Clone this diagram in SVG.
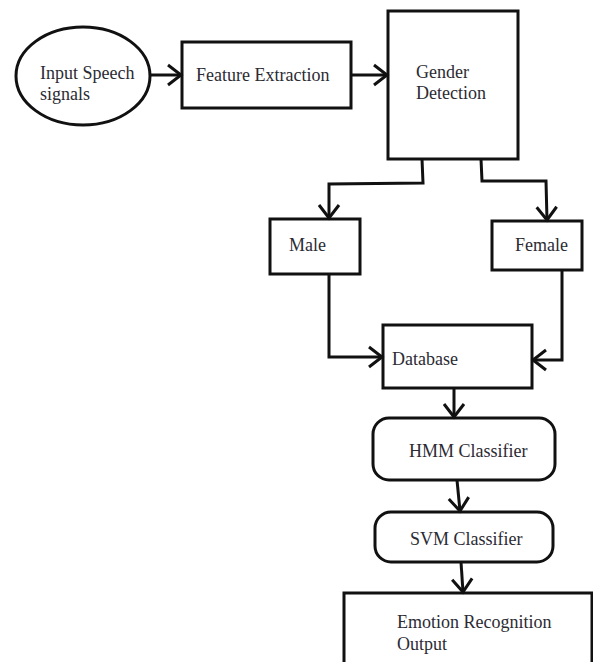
<svg xmlns="http://www.w3.org/2000/svg" width="593" height="662" viewBox="0 0 593 662">
<style>
.box{fill:#fff;stroke:#111;stroke-width:3}
.lbl{font-family:"Liberation Serif","Times New Roman","DejaVu Serif",serif;font-size:18px;fill:#2b2b33}
.con{fill:none;stroke:#111;stroke-width:3;stroke-linejoin:miter}
</style>
<defs>
<marker id="ah" markerUnits="userSpaceOnUse" markerWidth="20" markerHeight="24" refX="15" refY="12" orient="auto" viewBox="0 0 20 24">
<path d="M2,2 L15,12 L2,22" fill="none" stroke="#111" stroke-width="3"/>
</marker>
</defs>
<rect width="593" height="662" fill="#fff"/>
<g id="input">
<ellipse class="box" cx="83" cy="76" rx="67" ry="49"/>
<text class="lbl" x="40" y="79">Input Speech</text>
<text class="lbl" x="40" y="100">signals</text>
</g>
<g id="feature">
<rect class="box" x="182" y="42" width="169" height="66"/>
<text class="lbl" x="196" y="81">Feature Extraction</text>
</g>
<g id="gender">
<rect class="box" x="388" y="11" width="130" height="148"/>
<text class="lbl" x="416" y="78">Gender</text>
<text class="lbl" x="416" y="99">Detection</text>
</g>
<g id="male">
<rect class="box" x="270" y="219" width="90" height="55"/>
<text class="lbl" x="289" y="251">Male</text>
</g>
<g id="female">
<rect class="box" x="492" y="221" width="90" height="49"/>
<text class="lbl" x="515" y="251">Female</text>
</g>
<g id="database">
<rect class="box" x="383" y="325" width="149" height="63"/>
<text class="lbl" x="392" y="365">Database</text>
</g>
<g id="hmm">
<rect class="box" x="373" y="418" width="182" height="62" rx="16" ry="16"/>
<text class="lbl" x="409" y="457">HMM Classifier</text>
</g>
<g id="svm">
<rect class="box" x="375" y="512" width="178" height="50" rx="16" ry="16"/>
<text class="lbl" x="410" y="545">SVM Classifier</text>
</g>
<g id="emotion">
<rect class="box" x="344" y="593" width="248" height="80"/>
<text class="lbl" x="397" y="628">Emotion Recognition</text>
<text class="lbl" x="397" y="650">Output</text>
</g>
<g id="connectors">
<path class="con" d="M150,75 L181,75" marker-end="url(#ah)"/>
<path class="con" d="M351,75 L387,75" marker-end="url(#ah)"/>
<path class="con" d="M422,159 L423,183 L329,184 L329,218" marker-end="url(#ah)"/>
<path class="con" d="M481,159 L482,181 L546,181 L547,220" marker-end="url(#ah)"/>
<path class="con" d="M329,274 L329,357 L382,357" marker-end="url(#ah)"/>
<path class="con" d="M562,270 L562,360 L533,360" marker-end="url(#ah)"/>
<path class="con" d="M454,388 L454,417" marker-end="url(#ah)"/>
<path class="con" d="M457,480 L460,511" marker-end="url(#ah)"/>
<path class="con" d="M461,562 L463,592" marker-end="url(#ah)"/>
</g>
</svg>
